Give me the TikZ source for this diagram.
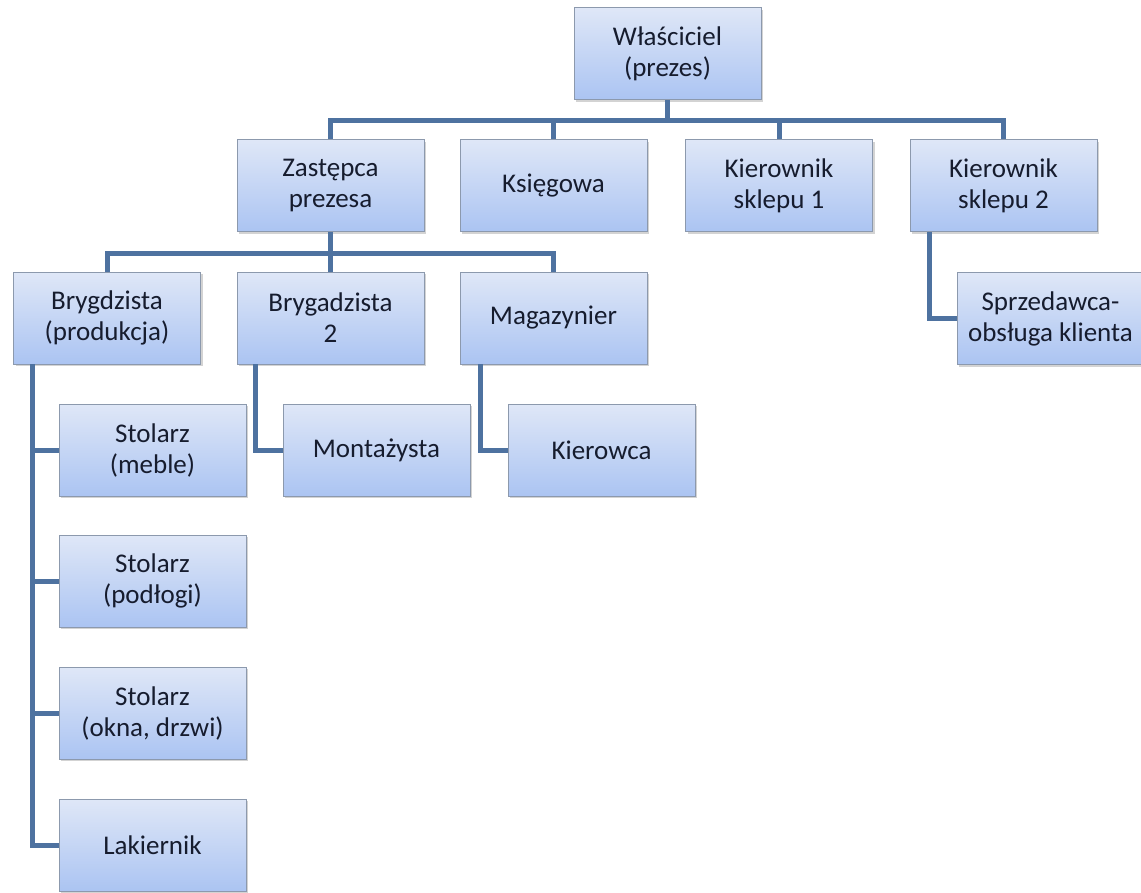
\documentclass[tikz,border=0pt]{standalone}
\usepackage{fontspec}
\setmainfont{Carlito}
\usepackage{tikz}
\usetikzlibrary{shadows}
\definecolor{boxtop}{HTML}{DFE7F7}
\definecolor{boxbot}{HTML}{ABC4F2}
\definecolor{boxline}{HTML}{8C99AD}
\definecolor{conline}{HTML}{4E72A0}
\definecolor{txt}{HTML}{161C2E}

\begin{document}
\begin{tikzpicture}[x=1pt, y=-1pt,
    stanowisko/.style={draw=boxline, line width=0.6pt, top color=boxtop, bottom color=boxbot,
      minimum width=187pt, minimum height=92pt, inner sep=0pt, align=center, text=txt,
      font=\fontsize{27}{31}\selectfont,
      drop shadow={shadow xshift=2pt, shadow yshift=-2pt, opacity=0.35}},
    linia/.style={draw=conline, line width=5pt}]
      \useasboundingbox (0, 0) rectangle (1141, 892);
      \coordinate (bus1) at (667.5, 120);
      \coordinate (bus2) at (330.5, 253);

      \node[stanowisko] (wl) at (667.5, 53.5){Właściciel\\(prezes)};
      \node[stanowisko] (zp) at (330.5, 185.5){Zastępca\\prezesa};
      \node[stanowisko] (ks) at (553.5, 185.5){Księgowa};
      \node[stanowisko] (k1) at (779, 185.5){Kierownik\\sklepu 1};
      \node[stanowisko] (k2) at (1003.5, 185.5){Kierownik\\sklepu 2};
      \node[stanowisko] (b1) at (107, 318){Brygdzista\\(produkcja)};
      \node[stanowisko] (b2) at (330.5, 318){Brygadzista\\2};
      \node[stanowisko] (mg) at (553.5, 318){Magazynier};
      \node[stanowisko] (sp) at (1050.5, 318.5){Sprzedawca-\\obsługa klienta};
      \node[stanowisko] (s1) at (152.5, 450){Stolarz\\(meble)};
      \node[stanowisko] (mo) at (376.5, 450){Montażysta};
      \node[stanowisko] (ki) at (601.5, 450){Kierowca};
      \node[stanowisko] (s2) at (152.5, 581){Stolarz\\(podłogi)};
      \node[stanowisko] (s3) at (152.5, 713){Stolarz\\(okna, drzwi)};
      \node[stanowisko] (lk) at (152.5, 845){Lakiernik};

      \draw[linia] (wl.south) -- (bus1);
      \draw[linia] (zp.north) |- (bus1) -| (k2.north);
      \draw[linia] (ks.north) -- (ks.north |- bus1);
      \draw[linia] (k1.north) -- (k1.north |- bus1);

      \draw[linia] (zp.south) -- (bus2);
      \draw[linia] (b1.north) |- (bus2) -| (mg.north);
      \draw[linia] (b2.north) -- (bus2);

      \foreach \n in {s1, s2, s3, lk}
        \draw[linia] ([xshift=19pt]b1.south west) |- (\n.west);
      \draw[linia] ([xshift=19pt]b2.south west) |- (mo.west);
      \draw[linia] ([xshift=21pt]mg.south west) |- (ki.west);
      \draw[linia] ([xshift=20pt]k2.south west) |- (sp.west);
    \end{tikzpicture}
\end{document}
